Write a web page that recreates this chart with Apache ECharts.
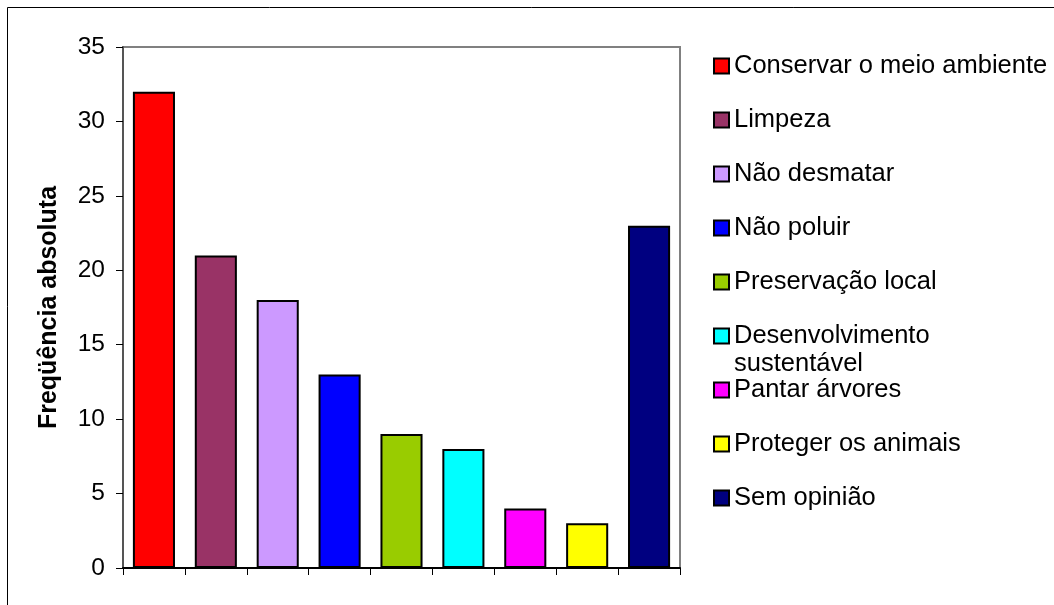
<!DOCTYPE html>
<html>
<head>
<meta charset="utf-8">
<script src="https://cdn.jsdelivr.net/npm/echarts@6/dist/echarts.min.js"></script>
<style>
html,body{margin:0;padding:0;background:#fff;}
#chart{width:1054px;height:605px;}
</style>
</head>
<body>
<div id="chart"></div>
<script>
const categories = ["Conservar o meio ambiente", "Limpeza", "Não desmatar", "Não poluir", "Preservação local", "Desenvolvimento sustentável", "Pantar árvores", "Proteger os animais", "Sem opinião"];
const values = [32, 21, 18, 13, 9, 8, 4, 3, 23];
const colors = ["#FF0000", "#993366", "#CC99FF", "#0000FF", "#99CC00", "#00FFFF", "#FF00FF", "#FFFF00", "#000080"];
const yTicks = { min: 0, max: 35, interval: 5 };
const yAxisName = "Freqüência absoluta";

const FONT = "Liberation Sans, Arial, sans-serif";
const chart = echarts.init(document.getElementById('chart'), null, { renderer: 'canvas' });

const series = categories.map((name, i) => ({
  name: name,
  type: 'bar',
  stack: 'all',
  barCategoryGap: '32%',
  itemStyle: { color: colors[i], borderColor: '#000', borderWidth: 2 },
  data: values.map((v, j) => (j === i ? v : '-'))
}));

const legendBase = {
  orient: 'vertical',
  left: 713,
  padding: 0,
  itemWidth: 15,
  itemHeight: 15,
  itemGap: 26,
  icon: 'rect',
  selectedMode: false,
  textStyle: { fontFamily: FONT, fontSize: 25.5, color: '#000', lineHeight: 28 }
};

chart.setOption({
  backgroundColor: '#fff',
  animation: false,
  graphic: [{
    type: 'rect',
    shape: { x: 7.5, y: 7.5, width: 1100, height: 700 },
    style: { fill: null, stroke: '#000', lineWidth: 1 },
    silent: true
  }],
  grid: {
    left: 123, top: 47, right: 374, bottom: 37,
    show: true, borderColor: '#808080', borderWidth: 2, backgroundColor: 'transparent'
  },
  legend: [
    Object.assign({}, legendBase, { top: 52, data: categories.slice(0, 5) }),
    Object.assign({}, legendBase, {
      top: 294,
      data: categories.slice(5, 6),
      formatter: n => '\n' + n.replace(' ', '\n')
    }),
    Object.assign({}, legendBase, { top: 376, data: categories.slice(6) })
  ],
  xAxis: {
    type: 'category',
    data: categories,
    axisLine: { show: true, lineStyle: { color: '#000', width: 2 } },
    axisTick: { show: true, alignWithLabel: false, interval: 0, length: 7, lineStyle: { color: '#000', width: 1 } },
    axisLabel: { show: false },
    splitLine: { show: false }
  },
  yAxis: {
    type: 'value',
    min: yTicks.min, max: yTicks.max, interval: yTicks.interval,
    name: yAxisName,
    nameLocation: 'middle',
    nameGap: 61,
    nameTextStyle: { fontFamily: FONT, fontSize: 25, fontWeight: 'bold', color: '#000' },
    axisLine: { show: true, lineStyle: { color: '#555', width: 2 } },
    axisTick: { show: true, length: 7, lineStyle: { color: '#000', width: 1 } },
    axisLabel: { fontFamily: FONT, fontSize: 24.5, color: '#000', margin: 18 },
    splitLine: { show: false }
  },
  series: series
});
</script>
</body>
</html>
